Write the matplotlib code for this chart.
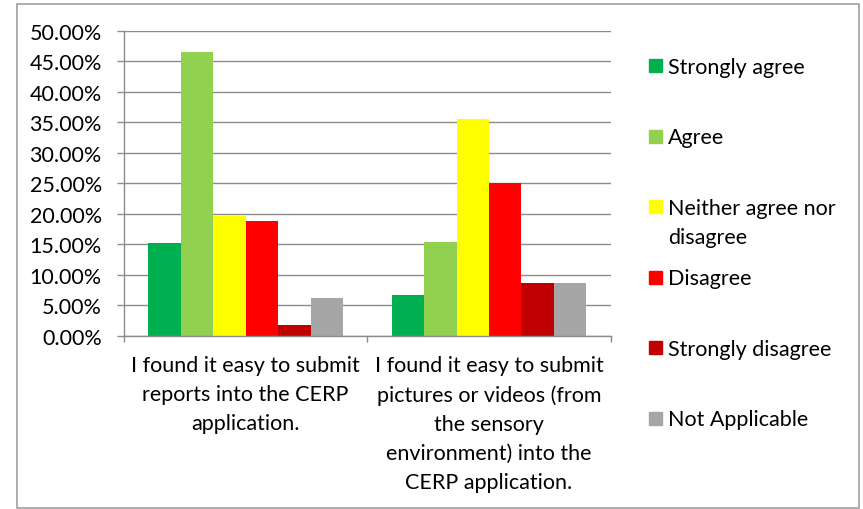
import numpy as np
import matplotlib
matplotlib.use("Agg")
import matplotlib.pyplot as plt
from matplotlib.patches import Rectangle
from matplotlib.ticker import PercentFormatter, FixedLocator

plt.rcParams['font.family'] = ['Lato', 'DejaVu Sans']

categories = ["I found it easy to submit\nreports into the CERP\napplication.",
              "I found it easy to submit\npictures or videos (from\nthe sensory\nenvironment) into the\nCERP application."]
series = ["Strongly agree", "Agree", "Neither agree nor\ndisagree", "Disagree",
          "Strongly disagree", "Not Applicable"]
colors = ["#00B050", "#92D050", "#FFFF00", "#FF0000", "#C00000", "#A6A6A6"]

strongly_agree = [15.15, 6.67]
agree = [46.46, 15.33]
neither = [19.57, 35.6]
disagree = [18.75, 25.0]
strongly_disagree = [1.72, 8.6]
not_applicable = [6.15, 8.6]
values = [strongly_agree, agree, neither, disagree, strongly_disagree, not_applicable]

W, H = 863, 510
FS = 15.5
LS = 1.56
fig = plt.figure(figsize=(W / 100, H / 100), dpi=100)
ax = fig.add_axes([124 / W, 1 - 336.7 / H, 486.7 / W, 305 / H])

x = np.arange(len(categories))
n = len(series)
w = 0.8 / n
for i, (vals, c) in enumerate(zip(values, colors)):
    ax.bar(x + (i - (n - 1) / 2) * w, vals, width=w, color=c, zorder=2)

grid_c = "#8C8C8C"
ax.set_xlim(-0.5, 1.5)
ax.set_ylim(0, 50)
ax.set_yticks(np.arange(0, 51, 5))
ax.yaxis.set_major_formatter(PercentFormatter(decimals=2))
ax.yaxis.grid(True, color=grid_c, linewidth=1.0, zorder=0)
ax.set_axisbelow(True)
ax.set_xticks(x)
ax.set_xticklabels(categories, fontsize=FS, linespacing=LS)
ax.xaxis.set_minor_locator(FixedLocator([-0.5, 0.5, 1.5]))
ax.tick_params(axis='x', which='major', length=0, pad=14)
ax.tick_params(axis='x', which='minor', length=4.5, color=grid_c, width=1.0)
ax.tick_params(axis='y', length=5, color=grid_c, width=1.0, labelsize=FS, pad=11)
for s in ["top", "right"]:
    ax.spines[s].set_visible(False)
for s in ["left", "bottom"]:
    ax.spines[s].set_color(grid_c)
    ax.spines[s].set_linewidth(1.0)

# legend drawn by hand to follow the Excel layout
for i, (lab, c) in enumerate(zip(series, colors)):
    yc = 66.7 + i * 70.5
    fig.patches.append(Rectangle((649 / W, 1 - (yc + 6.5) / H), 13 / W, 13 / H,
                                 transform=fig.transFigure, color=c))
    fig.text(668 / W, 1 - (yc - 9) / H, lab, fontsize=FS, va='top', ha='left',
             linespacing=LS)

# chart border
fig.patches.append(Rectangle((17 / W, 1.5 / H), 842 / W, 503.5 / H, transform=fig.transFigure,
                             fill=False, edgecolor="#A0A0A0", linewidth=1.2))

fig.savefig("out.png", dpi=100)
